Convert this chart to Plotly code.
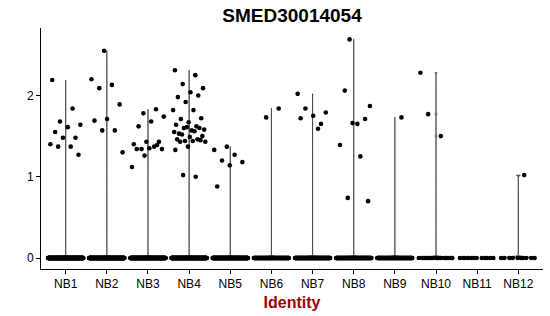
import numpy as np
import plotly.graph_objects as go

title = "SMED30014054"
categories = ["NB1", "NB2", "NB3", "NB4", "NB5", "NB6", "NB7", "NB8", "NB9", "NB10", "NB11", "NB12"]

# expression values above zero, per identity
nb1 = [2.19, 1.84, 1.68, 1.64, 1.61, 1.55, 1.48, 1.48, 1.40, 1.37, 1.37, 1.27]
nb2 = [2.55, 2.20, 2.13, 2.09, 1.89, 1.71, 1.69, 1.57, 1.57, 1.30]
nb3 = [1.83, 1.78, 1.74, 1.68, 1.62, 1.43, 1.43, 1.40, 1.37, 1.34, 1.34, 1.35, 1.34,
       1.39, 1.26, 1.12]
nb4 = [2.31, 2.25, 2.14, 2.09, 2.04, 1.98, 2.00, 1.92, 1.82, 1.82, 1.71, 1.72, 1.67,
       1.64, 1.62, 1.60, 1.58, 1.57, 1.53, 1.60, 1.61, 1.55, 1.56, 1.52, 1.50, 1.49,
       1.46, 1.46, 1.44, 1.43, 1.44, 1.43, 1.45, 1.37, 1.33, 1.00, 1.02]
nb5 = [1.37, 1.33, 1.27, 1.20, 1.18, 1.14, 0.88]
nb6 = [1.84, 1.73]
nb7 = [2.02, 1.59, 1.84, 1.79, 1.75, 1.72, 1.65]
nb8 = [2.69, 1.87, 1.65, 2.06, 1.71, 1.66, 1.39, 1.25, 0.74, 0.70]
nb9 = [1.73]
nb10 = [2.28, 1.50, 1.77]
nb11 = []
nb12 = [1.02]
nonzero_values = [nb1, nb2, nb3, nb4, nb5, nb6, nb7, nb8, nb9, nb10, nb11, nb12]

# number of cells with zero expression, per identity (estimated)
zero_counts = [300, 280, 260, 260, 220, 120, 140, 130, 110, 18, 12, 10]

y_ticks = [0, 1, 2]

GOLD = 0.6180339887


def spread(n, start, half_width=0.43):
    # deterministic horizontal spread (like geom_jitter) around the category centre
    k = np.arange(n) + start
    return ((k * GOLD) % 1.0 - 0.5) * 2 * half_width


fig = go.Figure()

for i, (name, vals, nz) in enumerate(zip(categories, nonzero_values, zero_counts)):
    pos = i + 1
    all_vals = list(vals) + [0.0] * nz
    if max(all_vals) <= 0:
        continue  # a violin with no spread is flat and invisible
    fig.add_trace(go.Violin(
        x=[pos] * len(all_vals), y=all_vals,
        width=0.9, spanmode="hard", scalemode="width", bandwidth=0.012,
        points=False, line=dict(color="black", width=0.6),
        fillcolor="rgba(120,120,120,0.6)", showlegend=False,
        hoverinfo="skip",
    ))

for i, (name, vals, nz) in enumerate(zip(categories, nonzero_values, zero_counts)):
    pos = i + 1
    xs = list(pos + spread(nz, 3 * i + 1)) + list(pos + spread(len(vals), 7 * i + 5, 0.4))
    ys = [0.0] * nz + list(vals)
    fig.add_trace(go.Scatter(
        x=xs, y=ys, mode="markers",
        marker=dict(color="black", size=4.6, line=dict(width=0)),
        showlegend=False, hoverinfo="skip",
    ))

fig.update_layout(
    width=550, height=316,
    margin=dict(l=41, r=7, t=28, b=47),
    paper_bgcolor="white", plot_bgcolor="white",
    font=dict(family="Liberation Sans, Arial, sans-serif", color="black", size=12),
    title=dict(text="<b>" + title + "</b>", x=0.531, xanchor="center",
               y=1 - 15 / 316, yanchor="middle",
               font=dict(size=19, color="black")),
    showlegend=False,
)
fig.update_xaxes(
    range=[0.4, 12.6], tickmode="array", tickvals=list(range(1, 13)), ticktext=categories,
    showgrid=False, zeroline=False, showline=True, linecolor="black", linewidth=1,
    ticks="outside", ticklen=4, tickcolor="black", tickwidth=1,
    tickfont=dict(size=12, color="black"),
    title=dict(text="<b>Identity</b>", font=dict(size=16, color="#9E0000"), standoff=6),
)
fig.update_yaxes(
    range=[-0.135, 2.83], tickmode="array", tickvals=y_ticks, ticktext=[str(v) for v in y_ticks],
    showgrid=False, zeroline=False, showline=True, linecolor="black", linewidth=1,
    ticks="outside", ticklen=4, tickcolor="black", tickwidth=1,
    tickfont=dict(size=12, color="black"),
)

fig.write_html("out.html")
